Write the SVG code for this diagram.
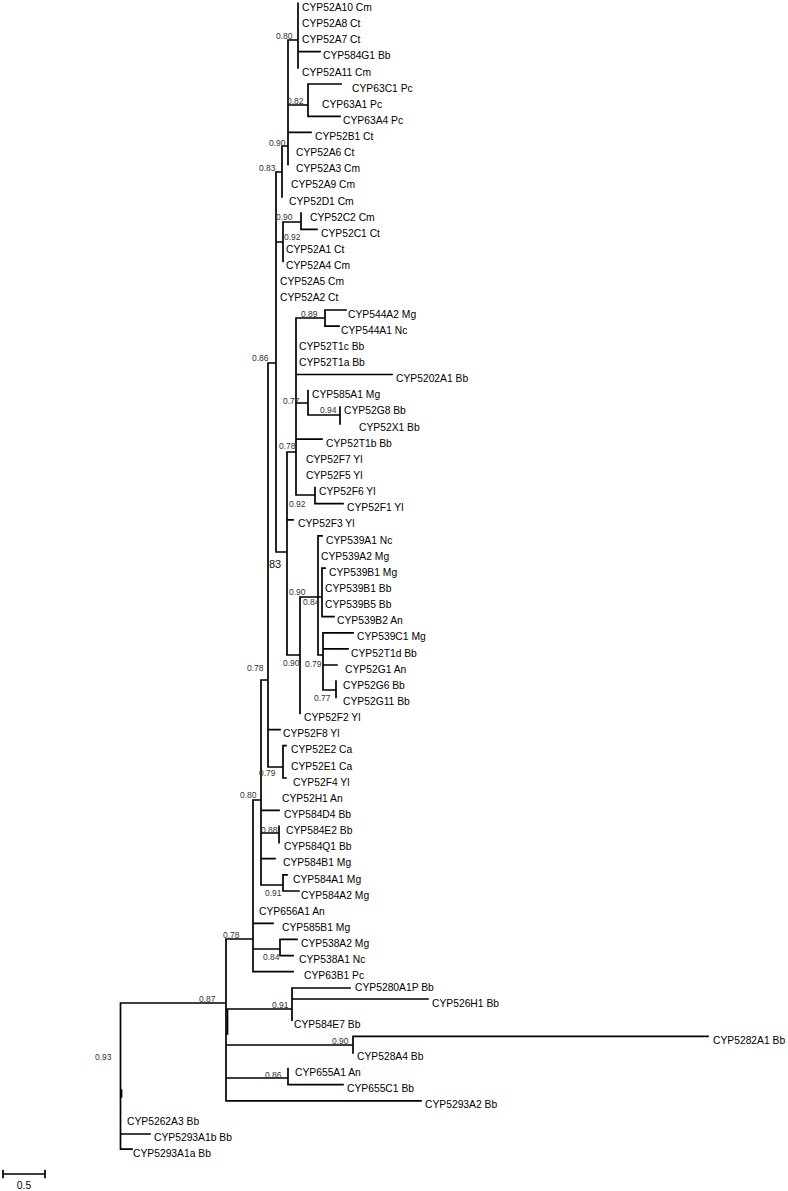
<svg xmlns="http://www.w3.org/2000/svg" width="788" height="1191" viewBox="0 0 788 1191">
<style>
.e{fill:none;stroke:#000;stroke-width:1.7;stroke-linecap:square}
.t{font-family:"Liberation Sans",Arial,sans-serif;font-size:10.3px;fill:#000}
.b{font-family:"Liberation Sans",Arial,sans-serif;font-size:8.5px;fill:#333}
.big{font-family:"Liberation Sans",Arial,sans-serif;font-size:11px;fill:#111}
</style>
<rect width="788" height="1191" fill="#fff"/>
<g id="connectors">
<path class="e" d="M120.5 1003V1149.2M120.5 1003H226M120.5 1134H150M120.5 1149.2H132
M226 939V1100.8M226 1009H292M226 1045H353M226 1078H288M226 1100.8H421
M226 939H253M253 800V971.7M253 923.3H273M253 949H280M253 971.7H293
M253 800H261M261 680V885M261 810.3H279M261 833H279M261 858.7H275M261 885H283
M279 826.4V842.6
M283 874.9V891M283 874.9H287M283 891H299
M280 939.4V955.6M280 939.4H297M280 955.6H293
M261 680H268M268 363V767M268 729.6H280M268 767H283
M283 745.7V778M283 745.7H286M283 778H286
M268 363H276M276 172V552M276 172H282M276 242H283M276 552H287
M282 146V197M282 146H288
M288 40V164.7M288 40H298M288 105H308M288 132.4H311
M298 3.3V67.9M298 51.7H320
M308 84V116.3M308 84H341M308 116.3H340
M283 222V261.5M283 222H301
M301 213.1V229.3M301 229.3H317
M287 452V655M287 452H296M287 519.8H293M287 655H300
M296 318V495M296 318H325M296 374.5H392M296 403H308M296 439.1H322M296 495H315
M325 310V326.1M325 310H346M325 326.1H339
M308 390.7V415M308 415H340
M340 407V424
M315 487.5V503.6M315 503.6H343
M300 597V713.5M300 597H318
M318 535.9V655M318 535.9H322M318 597H322M318 655H323
M322 568.2V616.6M322 568.2H325M322 616.6H334
M323 632.8V690M323 632.8H353M323 648.9H348M323 665H337M323 690H336
M336 681.2V697.3
M292 988V1020.1M292 988H350M293 999H428
M353 1036.3V1053M353 1036.3H708
M288 1068.5V1084.7M288 1084.7H343"/>
<path class="e" d="M227.5 1010V1034M121.5 1090V1097"/>
</g>
<g id="scale-bar">
<path class="e" d="M3 1174H45M3 1170.5V1177.5M45 1170.5V1177.5"/>
<text class="t" x="24" y="1189" text-anchor="middle">0.5</text>
</g>
<g id="leaves">
<g id="leaf-CYP52A10-Cm"><text class="t" x="302" y="10.9">CYP52A10 Cm</text></g>
<g id="leaf-CYP52A8-Ct"><text class="t" x="302" y="27">CYP52A8 Ct</text></g>
<g id="leaf-CYP52A7-Ct"><text class="t" x="302" y="43.2">CYP52A7 Ct</text></g>
<g id="leaf-CYP584G1-Bb"><text class="t" x="323" y="59.3">CYP584G1 Bb</text></g>
<g id="leaf-CYP52A11-Cm"><text class="t" x="302" y="75.5">CYP52A11 Cm</text></g>
<g id="leaf-CYP63C1-Pc"><text class="t" x="352" y="91.6">CYP63C1 Pc</text></g>
<g id="leaf-CYP63A1-Pc"><text class="t" x="322" y="107.7">CYP63A1 Pc</text></g>
<g id="leaf-CYP63A4-Pc"><text class="t" x="343" y="123.9">CYP63A4 Pc</text></g>
<g id="leaf-CYP52B1-Ct"><text class="t" x="315" y="140">CYP52B1 Ct</text></g>
<g id="leaf-CYP52A6-Ct"><text class="t" x="296" y="156.2">CYP52A6 Ct</text></g>
<g id="leaf-CYP52A3-Cm"><text class="t" x="296" y="172.3">CYP52A3 Cm</text></g>
<g id="leaf-CYP52A9-Cm"><text class="t" x="291" y="188.4">CYP52A9 Cm</text></g>
<g id="leaf-CYP52D1-Cm"><text class="t" x="289" y="204.6">CYP52D1 Cm</text></g>
<g id="leaf-CYP52C2-Cm"><text class="t" x="310" y="220.7">CYP52C2 Cm</text></g>
<g id="leaf-CYP52C1-Ct"><text class="t" x="321" y="236.9">CYP52C1 Ct</text></g>
<g id="leaf-CYP52A1-Ct"><text class="t" x="286" y="253">CYP52A1 Ct</text></g>
<g id="leaf-CYP52A4-Cm"><text class="t" x="286" y="269.1">CYP52A4 Cm</text></g>
<g id="leaf-CYP52A5-Cm"><text class="t" x="280" y="285.3">CYP52A5 Cm</text></g>
<g id="leaf-CYP52A2-Ct"><text class="t" x="280" y="301.4">CYP52A2 Ct</text></g>
<g id="leaf-CYP544A2-Mg"><text class="t" x="348" y="317.6">CYP544A2 Mg</text></g>
<g id="leaf-CYP544A1-Nc"><text class="t" x="341" y="333.7">CYP544A1 Nc</text></g>
<g id="leaf-CYP52T1c-Bb"><text class="t" x="299" y="349.8">CYP52T1c Bb</text></g>
<g id="leaf-CYP52T1a-Bb"><text class="t" x="299" y="366">CYP52T1a Bb</text></g>
<g id="leaf-CYP5202A1-Bb"><text class="t" x="396" y="382.1">CYP5202A1 Bb</text></g>
<g id="leaf-CYP585A1-Mg"><text class="t" x="312" y="398.3">CYP585A1 Mg</text></g>
<g id="leaf-CYP52G8-Bb"><text class="t" x="344" y="414.4">CYP52G8 Bb</text></g>
<g id="leaf-CYP52X1-Bb"><text class="t" x="359" y="430.5">CYP52X1 Bb</text></g>
<g id="leaf-CYP52T1b-Bb"><text class="t" x="326" y="446.7">CYP52T1b Bb</text></g>
<g id="leaf-CYP52F7-Yl"><text class="t" x="306" y="462.8">CYP52F7 Yl</text></g>
<g id="leaf-CYP52F5-Yl"><text class="t" x="306" y="479">CYP52F5 Yl</text></g>
<g id="leaf-CYP52F6-Yl"><text class="t" x="319" y="495.1">CYP52F6 Yl</text></g>
<g id="leaf-CYP52F1-Yl"><text class="t" x="347" y="511.2">CYP52F1 Yl</text></g>
<g id="leaf-CYP52F3-Yl"><text class="t" x="298" y="527.4">CYP52F3 Yl</text></g>
<g id="leaf-CYP539A1-Nc"><text class="t" x="326" y="543.5">CYP539A1 Nc</text></g>
<g id="leaf-CYP539A2-Mg"><text class="t" x="321" y="559.7">CYP539A2 Mg</text></g>
<g id="leaf-CYP539B1-Mg"><text class="t" x="329" y="575.8">CYP539B1 Mg</text></g>
<g id="leaf-CYP539B1-Bb"><text class="t" x="325" y="591.9">CYP539B1 Bb</text></g>
<g id="leaf-CYP539B5-Bb"><text class="t" x="325" y="608.1">CYP539B5 Bb</text></g>
<g id="leaf-CYP539B2-An"><text class="t" x="337" y="624.2">CYP539B2 An</text></g>
<g id="leaf-CYP539C1-Mg"><text class="t" x="357" y="640.4">CYP539C1 Mg</text></g>
<g id="leaf-CYP52T1d-Bb"><text class="t" x="351" y="656.5">CYP52T1d Bb</text></g>
<g id="leaf-CYP52G1-An"><text class="t" x="345" y="672.6">CYP52G1 An</text></g>
<g id="leaf-CYP52G6-Bb"><text class="t" x="343" y="688.8">CYP52G6 Bb</text></g>
<g id="leaf-CYP52G11-Bb"><text class="t" x="343" y="704.9">CYP52G11 Bb</text></g>
<g id="leaf-CYP52F2-Yl"><text class="t" x="304" y="721.1">CYP52F2 Yl</text></g>
<g id="leaf-CYP52F8-Yl"><text class="t" x="283" y="737.2">CYP52F8 Yl</text></g>
<g id="leaf-CYP52E2-Ca"><text class="t" x="291" y="753.3">CYP52E2 Ca</text></g>
<g id="leaf-CYP52E1-Ca"><text class="t" x="291" y="769.5">CYP52E1 Ca</text></g>
<g id="leaf-CYP52F4-Yl"><text class="t" x="293" y="785.6">CYP52F4 Yl</text></g>
<g id="leaf-CYP52H1-An"><text class="t" x="282" y="801.8">CYP52H1 An</text></g>
<g id="leaf-CYP584D4-Bb"><text class="t" x="284" y="817.9">CYP584D4 Bb</text></g>
<g id="leaf-CYP584E2-Bb"><text class="t" x="286" y="834">CYP584E2 Bb</text></g>
<g id="leaf-CYP584Q1-Bb"><text class="t" x="284" y="850.2">CYP584Q1 Bb</text></g>
<g id="leaf-CYP584B1-Mg"><text class="t" x="283" y="866.3">CYP584B1 Mg</text></g>
<g id="leaf-CYP584A1-Mg"><text class="t" x="293" y="882.5">CYP584A1 Mg</text></g>
<g id="leaf-CYP584A2-Mg"><text class="t" x="301" y="898.6">CYP584A2 Mg</text></g>
<g id="leaf-CYP656A1-An"><text class="t" x="259" y="914.7">CYP656A1 An</text></g>
<g id="leaf-CYP585B1-Mg"><text class="t" x="282" y="930.9">CYP585B1 Mg</text></g>
<g id="leaf-CYP538A2-Mg"><text class="t" x="301" y="947">CYP538A2 Mg</text></g>
<g id="leaf-CYP538A1-Nc"><text class="t" x="299" y="963.2">CYP538A1 Nc</text></g>
<g id="leaf-CYP63B1-Pc"><text class="t" x="304" y="979.3">CYP63B1 Pc</text></g>
<g id="leaf-CYP5280A1P-Bb"><text class="t" x="355" y="990.6">CYP5280A1P Bb</text></g>
<g id="leaf-CYP526H1-Bb"><text class="t" x="432" y="1006.6">CYP526H1 Bb</text></g>
<g id="leaf-CYP584E7-Bb"><text class="t" x="294" y="1027.7">CYP584E7 Bb</text></g>
<g id="leaf-CYP5282A1-Bb"><text class="t" x="713" y="1043.9">CYP5282A1 Bb</text></g>
<g id="leaf-CYP528A4-Bb"><text class="t" x="357" y="1060">CYP528A4 Bb</text></g>
<g id="leaf-CYP655A1-An"><text class="t" x="295" y="1076.1">CYP655A1 An</text></g>
<g id="leaf-CYP655C1-Bb"><text class="t" x="347" y="1092.3">CYP655C1 Bb</text></g>
<g id="leaf-CYP5293A2-Bb"><text class="t" x="425" y="1108.4">CYP5293A2 Bb</text></g>
<g id="leaf-CYP5262A3-Bb"><text class="t" x="127" y="1124.6">CYP5262A3 Bb</text></g>
<g id="leaf-CYP5293A1b-Bb"><text class="t" x="154" y="1140.7">CYP5293A1b Bb</text></g>
<g id="leaf-CYP5293A1a-Bb"><text class="t" x="133" y="1156.8">CYP5293A1a Bb</text></g>
</g>
<g id="supports">
<g id="n-080a"><text class="b" x="276" y="39">0.80</text></g>
<g id="n-082"><text class="b" x="287" y="104">0.82</text></g>
<g id="n-090a"><text class="b" x="269" y="146">0.90</text></g>
<g id="n-083"><text class="b" x="259" y="171">0.83</text></g>
<g id="n-090b"><text class="b" x="276" y="220">0.90</text></g>
<g id="n-092a"><text class="b" x="284" y="240">0.92</text></g>
<g id="n-086a"><text class="b" x="252" y="361">0.86</text></g>
<g id="n-089"><text class="b" x="301" y="317">0.89</text></g>
<g id="n-077a"><text class="b" x="283" y="404">0.77</text></g>
<g id="n-094"><text class="b" x="320" y="413">0.94</text></g>
<g id="n-078a"><text class="b" x="279" y="449">0.78</text></g>
<g id="n-092b"><text class="b" x="289" y="507">0.92</text></g>
<g id="n-83"><text class="big" x="269" y="568">83</text></g>
<g id="n-090d"><text class="b" x="289" y="595">0.90</text></g>
<g id="n-084a"><text class="b" x="303" y="605">0.84</text></g>
<g id="n-090c"><text class="b" x="283" y="666">0.90</text></g>
<g id="n-079a"><text class="b" x="305" y="667">0.79</text></g>
<g id="n-077b"><text class="b" x="314" y="701">0.77</text></g>
<g id="n-078b"><text class="b" x="247" y="671">0.78</text></g>
<g id="n-079b"><text class="b" x="259" y="776">0.79</text></g>
<g id="n-080b"><text class="b" x="240" y="798">0.80</text></g>
<g id="n-088"><text class="b" x="261" y="833">0.88</text></g>
<g id="n-091a"><text class="b" x="265" y="896">0.91</text></g>
<g id="n-078c"><text class="b" x="223" y="938">0.78</text></g>
<g id="n-084b"><text class="b" x="263" y="960">0.84</text></g>
<g id="n-087"><text class="b" x="199" y="1002">0.87</text></g>
<g id="n-091b"><text class="b" x="272" y="1008">0.91</text></g>
<g id="n-090e"><text class="b" x="332" y="1044">0.90</text></g>
<g id="n-086b"><text class="b" x="265" y="1078">0.86</text></g>
<g id="n-093"><text class="b" x="95" y="1060">0.93</text></g>
</g>
</svg>
